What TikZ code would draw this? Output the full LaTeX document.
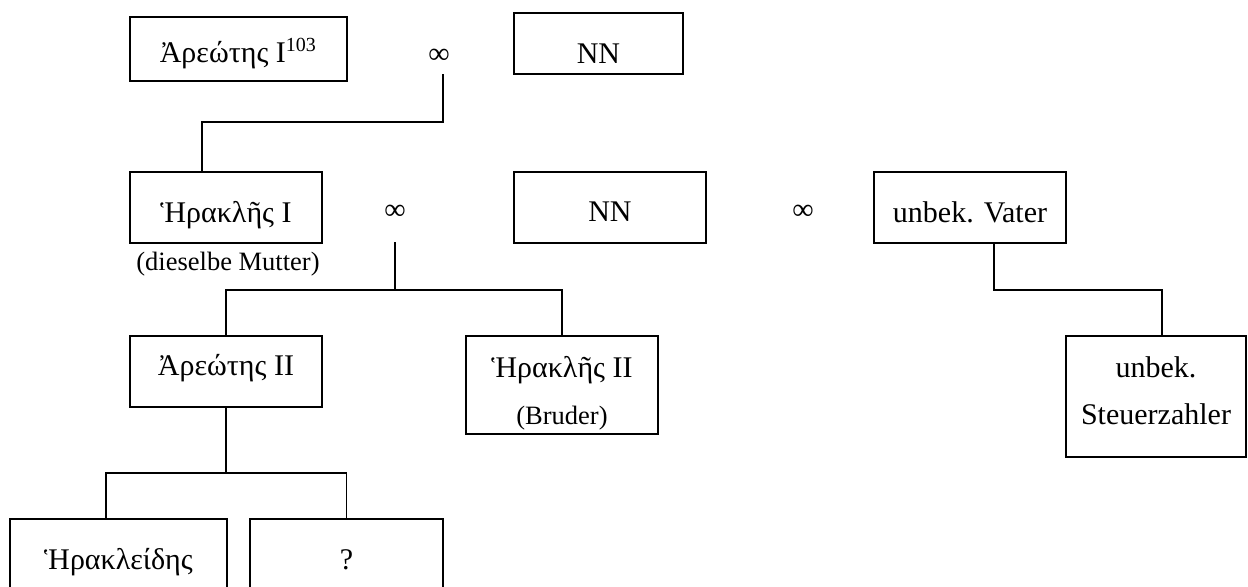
\documentclass[tikz,border=0pt]{standalone}
\usepackage{fontspec}
\setmainfont{Liberation Serif}
\usetikzlibrary{calc}
\newcommand{\klein}{\fontsize{10.6}{12.5}\selectfont}
\tikzset{
	box/.style={draw, line width=0.8pt, inner sep=0pt},
	person/.style={box, text height=#1, text depth=3pt},
	person/.default=10.9pt,
	wed/.style={inner sep=0pt},
	link/.style={line width=0.6pt},
}

\begin{document}
\begin{tikzpicture}[x=0.4pt, y=-0.4pt, font=\fontsize{12}{14}\selectfont]
		%%%%% START %%%%%
		\useasboundingbox (0, 0) rectangle (1248, 587);
		
		\node[person=14.1pt, minimum width=86.8pt, minimum height=25.6pt] (a1) at (238.5, 49) {Ἀρεώτης I\textsuperscript{103}};
		\node[wed] (m1) at (439, 56) {∞};
		\node[person=19.3pt, minimum width=67.6pt, minimum height=24.4pt] (nn1) at (598.5, 43.5) {NN};
		
		\node[person=14.9pt, minimum width=76.8pt, minimum height=28.4pt] (h1) at (226, 207.5) {Ἡρακλῆς I};
		\node[inner sep=0pt] (note1) at (228, 264) {\klein (dieselbe Mutter)};
		\node[wed] (m2) at (395, 212) {∞};
		\node[person=14.1pt, minimum width=76.8pt, minimum height=28.4pt] (nn2) at (610, 207.5) {NN};
		\node[wed] (m3) at (803, 212) {∞};
		\node[person=15.3pt, minimum width=76.8pt, minimum height=28.4pt] (v1) at (970, 207.5) {unbek. Vater};
		
		\node[person=6.5pt, minimum width=76.8pt, minimum height=28.4pt] (a2) at (226, 371.5) {Ἀρεώτης II};
		\node[box, align=center, minimum width=76.8pt, minimum height=39.2pt] (h2) at (562, 385) {\rule{0pt}{15pt}Ἡρακλῆς II\\[5pt]{\klein (Bruder)}};
		\node[box, align=center, minimum width=72pt, minimum height=48.4pt] (s1) at (1156, 396.5) {unbek.\\[5pt]Steuerzahler\rule[-4.8pt]{0pt}{4.8pt}};
		
		\node[person, minimum width=86.8pt, minimum height=32.4pt] (b1) at (118.5, 559.5) {Ἡρακλείδης};
		\node[person, minimum width=77.2pt, minimum height=32.4pt] (b2) at (346.5, 559.5) {?};
		
		% lines of descent
		\coordinate (k1) at (202, 122);
		\draw[link] ([xshift=1.6pt, yshift=-7.2pt]m1.center) |- (k1) -- (k1 |- h1.north);
		
		\coordinate (j2) at (394, 290);
		\draw[link] ([yshift=-12pt]m2.center) -- (m2 |- j2);
		\draw[link] (a2.north) |- (j2) -| (h2.north);
		
		\coordinate (k3) at (994, 290);
		\draw[link] (v1.south -| k3) -- (k3) -| ([xshift=2.4pt]s1.north);
		
		\coordinate (k4) at (106, 473);
		\draw[link] (a2.south) -- (a2.south |- k4);
		\draw[link] (b1.north -| k4) -- (k4) -| (b2.north);
		
		%%%%% END %%%%%
	\end{tikzpicture}
\end{document}
